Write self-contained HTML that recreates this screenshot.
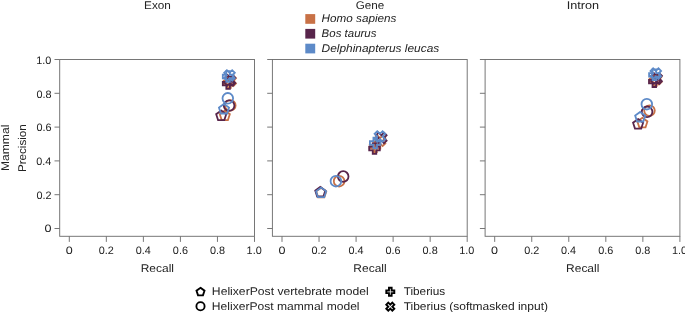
<!DOCTYPE html>
<html><head><meta charset="utf-8"><title>Figure</title>
<style>
html,body{margin:0;padding:0;background:#fff;}
svg{display:block;}
text{font-family:"Liberation Sans",sans-serif;fill:#222222;text-rendering:geometricPrecision;}
</style></head><body>
<svg width="685" height="312" viewBox="0 0 685 312">
<rect width="685" height="312" fill="#ffffff"/>
<g fill="none" stroke="#707070" stroke-width="0.95">
<rect x="59.70" y="59.5" width="194.80" height="176.80"/>
<path d="M69.30 236.3 V241.90M59.70 228.50 H54.50M106.34 236.3 V241.90M59.70 194.70 H54.50M143.38 236.3 V241.90M59.70 160.90 H54.50M180.42 236.3 V241.90M59.70 127.10 H54.50M217.46 236.3 V241.90M59.70 93.30 H54.50M254.50 236.3 V241.90M59.70 59.50 H54.50"/>
</g>
<text transform="translate(65.71 254) scale(1.1619 1)" font-size="10.8">0</text>
<text transform="translate(98.76 254) scale(1.0053 1)" font-size="10.8">0.2</text>
<text transform="translate(135.70 254) scale(1.0017 1)" font-size="10.8">0.4</text>
<text transform="translate(172.84 254) scale(1.0053 1)" font-size="10.8">0.6</text>
<text transform="translate(209.88 254) scale(1.0053 1)" font-size="10.8">0.8</text>
<text transform="translate(246.62 254) scale(1.0036 1)" font-size="10.8">1.0</text>
<text transform="translate(44.46 232) scale(1.1619 1)" font-size="10.8">0</text>
<text transform="translate(36.42 199) scale(1.0053 1)" font-size="10.8">0.2</text>
<text transform="translate(36.22 165) scale(1.0017 1)" font-size="10.8">0.4</text>
<text transform="translate(36.42 131) scale(1.0053 1)" font-size="10.8">0.6</text>
<text transform="translate(36.42 98) scale(1.0053 1)" font-size="10.8">0.8</text>
<text transform="translate(36.32 64) scale(1.0036 1)" font-size="10.8">1.0</text>
<text transform="translate(140.66 272) scale(1.0712 1)" font-size="11.2">Recall</text>
<text transform="translate(144.08 9) scale(1.0513 1)" font-size="11.2">Exon</text>
<g fill="none" stroke="#707070" stroke-width="0.95">
<rect x="272.40" y="59.5" width="194.80" height="176.80"/>
<path d="M282.00 236.3 V241.90M272.40 228.50 H267.20M319.04 236.3 V241.90M272.40 194.70 H267.20M356.08 236.3 V241.90M272.40 160.90 H267.20M393.12 236.3 V241.90M272.40 127.10 H267.20M430.16 236.3 V241.90M272.40 93.30 H267.20M467.20 236.3 V241.90M272.40 59.50 H267.20"/>
</g>
<text transform="translate(278.41 254) scale(1.1619 1)" font-size="10.8">0</text>
<text transform="translate(311.46 254) scale(1.0053 1)" font-size="10.8">0.2</text>
<text transform="translate(348.40 254) scale(1.0017 1)" font-size="10.8">0.4</text>
<text transform="translate(385.54 254) scale(1.0053 1)" font-size="10.8">0.6</text>
<text transform="translate(422.58 254) scale(1.0053 1)" font-size="10.8">0.8</text>
<text transform="translate(459.32 254) scale(1.0036 1)" font-size="10.8">1.0</text>
<text transform="translate(353.36 272) scale(1.0712 1)" font-size="11.2">Recall</text>
<text transform="translate(355.75 9) scale(1.0438 1)" font-size="11.2">Gene</text>
<g fill="none" stroke="#707070" stroke-width="0.95">
<rect x="485.10" y="59.5" width="194.80" height="176.80"/>
<path d="M494.70 236.3 V241.90M485.10 228.50 H479.90M531.74 236.3 V241.90M485.10 194.70 H479.90M568.78 236.3 V241.90M485.10 160.90 H479.90M605.82 236.3 V241.90M485.10 127.10 H479.90M642.86 236.3 V241.90M485.10 93.30 H479.90M679.90 236.3 V241.90M485.10 59.50 H479.90"/>
</g>
<text transform="translate(491.11 254) scale(1.1619 1)" font-size="10.8">0</text>
<text transform="translate(524.16 254) scale(1.0053 1)" font-size="10.8">0.2</text>
<text transform="translate(561.10 254) scale(1.0017 1)" font-size="10.8">0.4</text>
<text transform="translate(598.24 254) scale(1.0053 1)" font-size="10.8">0.6</text>
<text transform="translate(635.28 254) scale(1.0053 1)" font-size="10.8">0.8</text>
<text transform="translate(672.02 254) scale(1.0036 1)" font-size="10.8">1.0</text>
<text transform="translate(566.06 272) scale(1.0712 1)" font-size="11.2">Recall</text>
<text transform="translate(566.67 9) scale(1.1312 1)" font-size="11.2">Intron</text>
<text transform="translate(8.8 170.10) rotate(-90) scale(1.0812 1) translate(-0.88 0)" font-size="11.2">Mammal</text>
<text transform="translate(25.9 171.20) rotate(-90) scale(1.0411 1) translate(-0.88 0)" font-size="11.2">Precision</text>
<rect x="305.3" y="14.10" width="9.9" height="9.7" fill="#C87146"/>
<text transform="translate(321.61 22) scale(1.0469 1)" font-size="11.2" font-style="italic">Homo sapiens</text>
<rect x="305.3" y="28.90" width="9.9" height="9.7" fill="#58254B"/>
<text transform="translate(321.62 37) scale(1.0251 1)" font-size="11.2" font-style="italic">Bos taurus</text>
<rect x="305.3" y="43.70" width="9.9" height="9.7" fill="#5D8AC8"/>
<text transform="translate(321.60 52) scale(1.0624 1)" font-size="11.2" font-style="italic">Delphinapterus leucas</text>
<path d="M374.7 141.2V152.4" stroke="#C87146" stroke-width="1.5" fill="none"/>
<path d="M224.80 110.50 L229.84 114.16 L227.92 120.09 L221.68 120.09 L219.76 114.16Z" fill="none" stroke="#C87146" stroke-width="1.8" stroke-linejoin="miter"/>
<circle cx="230.30" cy="105.40" r="5.30" fill="none" stroke="#C87146" stroke-width="1.8"/>
<path d="M227.23 77.20 L230.77 77.20 L230.77 80.73 L234.30 80.73 L234.30 84.27 L230.77 84.27 L230.77 87.80 L227.23 87.80 L227.23 84.27 L223.70 84.27 L223.70 80.73 L227.23 80.73Z" fill="none" stroke="#C87146" stroke-width="1.8" stroke-linejoin="miter"/>
<path d="M227.95 75.50 L230.60 78.15 L233.25 75.50 L235.90 78.15 L233.25 80.80 L235.90 83.45 L233.25 86.10 L230.60 83.45 L227.95 86.10 L225.30 83.45 L227.95 80.80 L225.30 78.15Z" fill="none" stroke="#C87146" stroke-width="1.8" stroke-linejoin="miter"/>
<path d="M321.20 187.70 L326.24 191.36 L324.32 197.29 L318.08 197.29 L316.16 191.36Z" fill="none" stroke="#C87146" stroke-width="1.8" stroke-linejoin="miter"/>
<circle cx="339.10" cy="181.20" r="5.30" fill="none" stroke="#C87146" stroke-width="1.8"/>
<path d="M373.23 141.50 L376.77 141.50 L376.77 145.03 L380.30 145.03 L380.30 148.57 L376.77 148.57 L376.77 152.10 L373.23 152.10 L373.23 148.57 L369.70 148.57 L369.70 145.03 L373.23 145.03Z" fill="none" stroke="#C87146" stroke-width="1.8" stroke-linejoin="miter"/>
<path d="M377.35 135.50 L380.00 138.15 L382.65 135.50 L385.30 138.15 L382.65 140.80 L385.30 143.45 L382.65 146.10 L380.00 143.45 L377.35 146.10 L374.70 143.45 L377.35 140.80 L374.70 138.15Z" fill="none" stroke="#C87146" stroke-width="1.8" stroke-linejoin="miter"/>
<path d="M642.40 117.80 L647.44 121.46 L645.52 127.39 L639.28 127.39 L637.36 121.46Z" fill="none" stroke="#C87146" stroke-width="1.8" stroke-linejoin="miter"/>
<circle cx="649.50" cy="110.60" r="5.30" fill="none" stroke="#C87146" stroke-width="1.8"/>
<path d="M653.23 75.20 L656.77 75.20 L656.77 78.73 L660.30 78.73 L660.30 82.27 L656.77 82.27 L656.77 85.80 L653.23 85.80 L653.23 82.27 L649.70 82.27 L649.70 78.73 L653.23 78.73Z" fill="none" stroke="#C87146" stroke-width="1.8" stroke-linejoin="miter"/>
<path d="M653.65 74.00 L656.30 76.65 L658.95 74.00 L661.60 76.65 L658.95 79.30 L661.60 81.95 L658.95 84.60 L656.30 81.95 L653.65 84.60 L651.00 81.95 L653.65 79.30 L651.00 76.65Z" fill="none" stroke="#C87146" stroke-width="1.8" stroke-linejoin="miter"/>
<path d="M221.20 110.50 L226.24 114.16 L224.32 120.09 L218.08 120.09 L216.16 114.16Z" fill="none" stroke="#58254B" stroke-width="1.8" stroke-linejoin="miter"/>
<circle cx="229.10" cy="105.60" r="5.30" fill="none" stroke="#58254B" stroke-width="1.8"/>
<path d="M226.33 78.30 L229.87 78.30 L229.87 81.83 L233.40 81.83 L233.40 85.37 L229.87 85.37 L229.87 88.90 L226.33 88.90 L226.33 85.37 L222.80 85.37 L222.80 81.83 L226.33 81.83Z" fill="none" stroke="#58254B" stroke-width="1.8" stroke-linejoin="miter"/>
<path d="M227.35 75.00 L230.00 77.65 L232.65 75.00 L235.30 77.65 L232.65 80.30 L235.30 82.95 L232.65 85.60 L230.00 82.95 L227.35 85.60 L224.70 82.95 L227.35 80.30 L224.70 77.65Z" fill="none" stroke="#58254B" stroke-width="1.8" stroke-linejoin="miter"/>
<path d="M320.30 186.90 L325.34 190.56 L323.42 196.49 L317.18 196.49 L315.26 190.56Z" fill="none" stroke="#58254B" stroke-width="1.8" stroke-linejoin="miter"/>
<circle cx="343.20" cy="176.50" r="5.30" fill="none" stroke="#58254B" stroke-width="1.8"/>
<path d="M372.73 143.30 L376.27 143.30 L376.27 146.83 L379.80 146.83 L379.80 150.37 L376.27 150.37 L376.27 153.90 L372.73 153.90 L372.73 150.37 L369.20 150.37 L369.20 146.83 L372.73 146.83Z" fill="none" stroke="#58254B" stroke-width="1.8" stroke-linejoin="miter"/>
<path d="M378.65 132.70 L381.30 135.35 L383.95 132.70 L386.60 135.35 L383.95 138.00 L386.60 140.65 L383.95 143.30 L381.30 140.65 L378.65 143.30 L376.00 140.65 L378.65 138.00 L376.00 135.35Z" fill="none" stroke="#58254B" stroke-width="1.8" stroke-linejoin="miter"/>
<path d="M638.10 119.00 L643.14 122.66 L641.22 128.59 L634.98 128.59 L633.06 122.66Z" fill="none" stroke="#58254B" stroke-width="1.8" stroke-linejoin="miter"/>
<circle cx="647.10" cy="111.80" r="5.30" fill="none" stroke="#58254B" stroke-width="1.8"/>
<path d="M652.53 76.40 L656.07 76.40 L656.07 79.93 L659.60 79.93 L659.60 83.47 L656.07 83.47 L656.07 87.00 L652.53 87.00 L652.53 83.47 L649.00 83.47 L649.00 79.93 L652.53 79.93Z" fill="none" stroke="#58254B" stroke-width="1.8" stroke-linejoin="miter"/>
<path d="M653.95 73.20 L656.60 75.85 L659.25 73.20 L661.90 75.85 L659.25 78.50 L661.90 81.15 L659.25 83.80 L656.60 81.15 L653.95 83.80 L651.30 81.15 L653.95 78.50 L651.30 75.85Z" fill="none" stroke="#58254B" stroke-width="1.8" stroke-linejoin="miter"/>
<path d="M224.00 103.90 L229.04 107.56 L227.12 113.49 L220.88 113.49 L218.96 107.56Z" fill="none" stroke="#5D8AC8" stroke-width="1.8" stroke-linejoin="miter"/>
<circle cx="227.80" cy="98.30" r="5.30" fill="none" stroke="#5D8AC8" stroke-width="1.8"/>
<path d="M226.33 71.20 L229.87 71.20 L229.87 74.73 L233.40 74.73 L233.40 78.27 L229.87 78.27 L229.87 81.80 L226.33 81.80 L226.33 78.27 L222.80 78.27 L222.80 74.73 L226.33 74.73Z" fill="none" stroke="#5D8AC8" stroke-width="1.8" stroke-linejoin="miter"/>
<path d="M226.85 70.20 L229.50 72.85 L232.15 70.20 L234.80 72.85 L232.15 75.50 L234.80 78.15 L232.15 80.80 L229.50 78.15 L226.85 80.80 L224.20 78.15 L226.85 75.50 L224.20 72.85Z" fill="none" stroke="#5D8AC8" stroke-width="1.8" stroke-linejoin="miter"/>
<path d="M321.10 187.60 L326.14 191.26 L324.22 197.19 L317.98 197.19 L316.06 191.26Z" fill="none" stroke="#5D8AC8" stroke-width="1.8" stroke-linejoin="miter"/>
<circle cx="335.90" cy="181.20" r="5.30" fill="none" stroke="#5D8AC8" stroke-width="1.8"/>
<path d="M373.43 137.70 L376.97 137.70 L376.97 141.23 L380.50 141.23 L380.50 144.77 L376.97 144.77 L376.97 148.30 L373.43 148.30 L373.43 144.77 L369.90 144.77 L369.90 141.23 L373.43 141.23Z" fill="none" stroke="#5D8AC8" stroke-width="1.8" stroke-linejoin="miter"/>
<path d="M377.25 131.20 L379.90 133.85 L382.55 131.20 L385.20 133.85 L382.55 136.50 L385.20 139.15 L382.55 141.80 L379.90 139.15 L377.25 141.80 L374.60 139.15 L377.25 136.50 L374.60 133.85Z" fill="none" stroke="#5D8AC8" stroke-width="1.8" stroke-linejoin="miter"/>
<path d="M640.20 111.90 L645.24 115.56 L643.32 121.49 L637.08 121.49 L635.16 115.56Z" fill="none" stroke="#5D8AC8" stroke-width="1.8" stroke-linejoin="miter"/>
<circle cx="646.80" cy="104.20" r="5.30" fill="none" stroke="#5D8AC8" stroke-width="1.8"/>
<path d="M652.63 69.50 L656.17 69.50 L656.17 73.03 L659.70 73.03 L659.70 76.57 L656.17 76.57 L656.17 80.10 L652.63 80.10 L652.63 76.57 L649.10 76.57 L649.10 73.03 L652.63 73.03Z" fill="none" stroke="#5D8AC8" stroke-width="1.8" stroke-linejoin="miter"/>
<path d="M653.15 68.30 L655.80 70.95 L658.45 68.30 L661.10 70.95 L658.45 73.60 L661.10 76.25 L658.45 78.90 L655.80 76.25 L653.15 78.90 L650.50 76.25 L653.15 73.60 L650.50 70.95Z" fill="none" stroke="#5D8AC8" stroke-width="1.8" stroke-linejoin="miter"/>
<path d="M200.50 287.80 L204.49 290.70 L202.97 295.40 L198.03 295.40 L196.51 290.70Z" fill="none" stroke="#000" stroke-width="1.9" stroke-linejoin="miter"/>
<circle cx="200.50" cy="306.30" r="4.10" fill="none" stroke="#000" stroke-width="1.85"/>
<path d="M388.97 287.80 L391.63 287.80 L391.63 290.47 L394.30 290.47 L394.30 293.13 L391.63 293.13 L391.63 295.80 L388.97 295.80 L388.97 293.13 L386.30 293.13 L386.30 290.47 L388.97 290.47Z" fill="none" stroke="#000" stroke-width="1.9" stroke-linejoin="miter"/>
<path d="M388.30 302.70 L390.30 304.70 L392.30 302.70 L394.30 304.70 L392.30 306.70 L394.30 308.70 L392.30 310.70 L390.30 308.70 L388.30 310.70 L386.30 308.70 L388.30 306.70 L386.30 304.70Z" fill="none" stroke="#000" stroke-width="1.9" stroke-linejoin="miter"/>
<text transform="translate(211.85 295) scale(1.0868 1)" font-size="11.2">HelixerPost vertebrate model</text>
<text transform="translate(211.86 310) scale(1.0797 1)" font-size="11.2">HelixerPost mammal model</text>
<text transform="translate(403.64 295) scale(1.0555 1)" font-size="11.2">Tiberius</text>
<text transform="translate(403.63 310) scale(1.0732 1)" font-size="11.2">Tiberius (softmasked input)</text>
</svg></body></html>
